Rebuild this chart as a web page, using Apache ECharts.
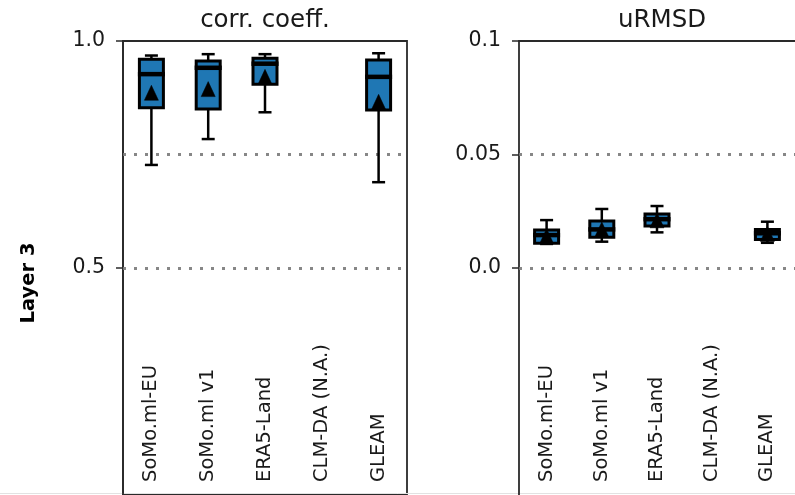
<!DOCTYPE html>
<html>
<head>
<meta charset="utf-8">
<script src="https://cdn.jsdelivr.net/npm/echarts@6/dist/echarts.min.js"></script>
<style>
html,body{margin:0;padding:0;background:#fff;}
#c{width:795px;height:495px;}
</style>
</head>
<body>
<div id="c"></div>
<script>
const categories = ['SoMo.ml-EU', 'SoMo.ml v1', 'ERA5-Land', 'CLM-DA (N.A.)', 'GLEAM'];

// corr. coeff.
const corrLow    = [0.727, 0.784, 0.843, null, 0.689];
const corrQ1     = [0.853, 0.850, 0.905, null, 0.848];
const corrMedian = [0.927, 0.941, 0.950, null, 0.921];
const corrQ3     = [0.960, 0.956, 0.962, null, 0.958];
const corrHigh   = [0.968, 0.971, 0.971, null, 0.973];
const corrMean   = [0.886, 0.894, 0.921, null, 0.866];

// uRMSD
const rmsdLow    = [0.0106, 0.0116, 0.0157, null, 0.0111];
const rmsdQ1     = [0.0109, 0.0135, 0.0185, null, 0.0126];
const rmsdMedian = [0.0145, 0.0170, 0.0215, null, 0.0153];
const rmsdQ3     = [0.0167, 0.0207, 0.0238, null, 0.0170];
const rmsdHigh   = [0.0211, 0.0260, 0.0273, null, 0.0204];
const rmsdMean   = [0.0140, 0.0170, 0.0210, null, 0.0150];

const corrTicks = [0.5, 1.0];
const rmsdTicks = [0.0, 0.05, 0.1];
const corrRefLines = [0.75, 0.5];
const rmsdRefLines = [0.05, 0.0];

function build(lo, q1, med, q3, hi, mean) {
  const out = [];
  for (let i = 0; i < categories.length; i++) {
    if (med[i] == null) continue;
    out.push([i, lo[i], q1[i], med[i], q3[i], hi[i], mean[i]]);
  }
  return out;
}

const FONT = 'DejaVu Sans';
const TXT = '#1a1a1a';
const SPINE = '#2a2a2a';

function renderBox(params, api) {
  const x = api.value(0);
  const pLo = api.coord([x, api.value(1)]);
  const pQ1 = api.coord([x, api.value(2)]);
  const pMed = api.coord([x, api.value(3)]);
  const pQ3 = api.coord([x, api.value(4)]);
  const pHi = api.coord([x, api.value(5)]);
  const pMean = api.coord([x, api.value(6)]);
  const cx = pMed[0];
  const hw = 12, capHw = 6.5;
  const ls = {stroke: '#000', lineWidth: 2.5};
  return {
    type: 'group',
    children: [
      {type: 'line', shape: {x1: cx, y1: pQ3[1], x2: cx, y2: pHi[1]}, style: ls},
      {type: 'line', shape: {x1: cx, y1: pQ1[1], x2: cx, y2: pLo[1]}, style: ls},
      {type: 'line', shape: {x1: cx - capHw, y1: pHi[1], x2: cx + capHw, y2: pHi[1]}, style: ls},
      {type: 'line', shape: {x1: cx - capHw, y1: pLo[1], x2: cx + capHw, y2: pLo[1]}, style: ls},
      {type: 'rect', shape: {x: cx - hw, y: pQ3[1], width: 2 * hw, height: pQ1[1] - pQ3[1]},
        style: {fill: '#1f77b4', stroke: '#000', lineWidth: 3}},
      {type: 'line', shape: {x1: cx - hw - 1.5, y1: pMed[1], x2: cx + hw + 1.5, y2: pMed[1]},
        style: {stroke: '#000', lineWidth: 4.5}},
      {type: 'polygon', shape: {points: [[cx, pMean[1] - 7.5], [cx - 7, pMean[1] + 7.5], [cx + 7, pMean[1] + 7.5]]},
        style: {fill: '#000', stroke: '#000', lineWidth: 0.5}}
    ]
  };
}

function yAxisCommon(min, max, ticks, fmt, gridIndex) {
  return {
    type: 'value', gridIndex: gridIndex, min: min, max: max,
    axisLine: {show: true, lineStyle: {color: SPINE, width: 1.8}},
    axisTick: {show: true, length: 7, customValues: ticks, lineStyle: {color: SPINE, width: 1.5}},
    axisLabel: {show: true, customValues: ticks, formatter: fmt, margin: 18,
      color: TXT, fontFamily: FONT, fontSize: 20.5},
    splitLine: {show: false}
  };
}

function xAxisCommon(gridIndex) {
  return {
    type: 'category', gridIndex: gridIndex, data: categories, boundaryGap: true,
    axisLine: {show: false}, axisTick: {show: false},
    axisLabel: {show: true, inside: true, rotate: 90, margin: 13, interval: 0,
      color: TXT, fontFamily: FONT, fontSize: 19.5}
  };
}

function refLineSeries(vals, idx) {
  return {
    type: 'line', xAxisIndex: idx, yAxisIndex: idx, data: [], silent: true, z: 1,
    markLine: {
      silent: true, symbol: ['none', 'none'], label: {show: false},
      lineStyle: {color: '#7a7a7a', width: 3, type: [3, 8], opacity: 0.9},
      data: vals.map(v => ({yAxis: v}))
    }
  };
}

const chart = echarts.init(document.getElementById('c'), null, {renderer: 'canvas'});
chart.setOption({
  animation: false,
  backgroundColor: '#fff',
  grid: [
    {left: 123, top: 41, width: 284, bottom: 0, show: true, borderColor: SPINE, borderWidth: 1.8},
    {left: 519, top: 41, width: 284, bottom: 0, show: false}
  ],
  xAxis: [
    xAxisCommon(0),
    xAxisCommon(1),
    {type: 'category', gridIndex: 1, position: 'top', data: categories,
      axisLine: {show: true, lineStyle: {color: SPINE, width: 1.8}},
      axisTick: {show: false}, axisLabel: {show: false}}
  ],
  yAxis: [
    yAxisCommon(0, 1, corrTicks, v => v.toFixed(1), 0),
    yAxisCommon(-0.1, 0.1, rmsdTicks, v => (Math.abs(v) < 1e-9 ? '0.0' : String(+v.toFixed(2))), 1)
  ],
  graphic: [
    {type: 'text', x: 265, y: 21, style: {text: 'corr. coeff.', fill: TXT, font: '24.5px "DejaVu Sans"', align: 'center', verticalAlign: 'middle'}},
    {type: 'text', x: 662, y: 21, style: {text: 'uRMSD', fill: TXT, font: '24.5px "DejaVu Sans"', align: 'center', verticalAlign: 'middle'}},
    {type: 'text', x: 29, y: 283, rotation: Math.PI / 2, style: {text: 'Layer 3', fill: '#000', font: 'bold 19.5px "DejaVu Sans"', align: 'center', verticalAlign: 'middle'}},
    {type: 'line', shape: {x1: 0, y1: 493.5, x2: 795, y2: 493.5}, style: {stroke: '#e2e2e2', lineWidth: 1}}
  ],
  series: [
    refLineSeries(corrRefLines, 0),
    refLineSeries(rmsdRefLines, 1),
    {type: 'custom', xAxisIndex: 0, yAxisIndex: 0, z: 5, renderItem: renderBox,
      data: build(corrLow, corrQ1, corrMedian, corrQ3, corrHigh, corrMean), encode: {x: 0, y: [1, 5]}},
    {type: 'custom', xAxisIndex: 1, yAxisIndex: 1, z: 5, renderItem: renderBox,
      data: build(rmsdLow, rmsdQ1, rmsdMedian, rmsdQ3, rmsdHigh, rmsdMean), encode: {x: 0, y: [1, 5]}}
  ]
});
</script>
</body>
</html>
